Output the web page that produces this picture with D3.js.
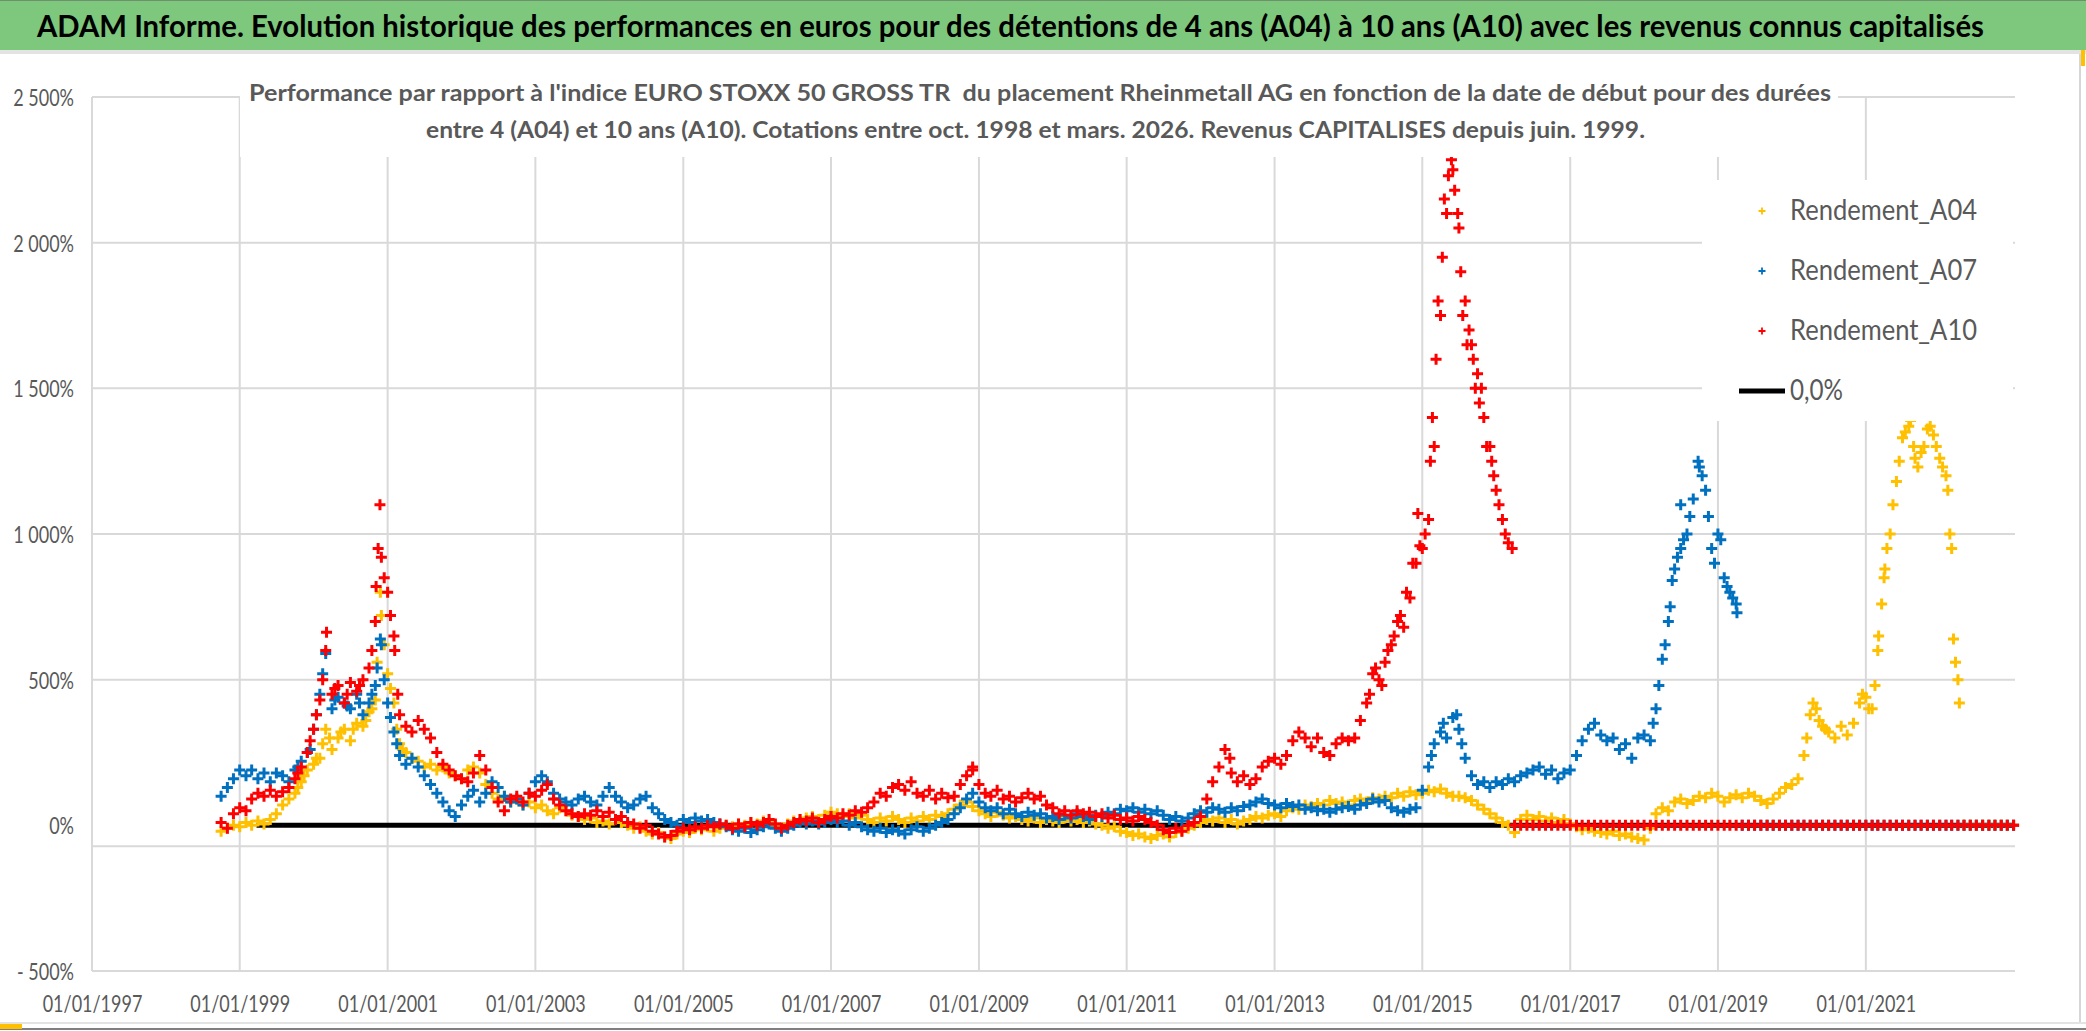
<!DOCTYPE html>
<html>
<head>
<meta charset="utf-8">
<script src="https://cdn.jsdelivr.net/npm/d3@7"></script>
<style>
  body { margin: 0; background: #fff; }
  svg { display: block; }
  text { font-family: Lato, "Open Sans", sans-serif; white-space: pre; }
</style>
</head>
<body>
<div id="chart"></div>
<script>
// monthly values (%), first value = oct. 1998, one row per 12 months (oct -> sep)
const firstMonth = new Date(1998, 9, 1);

const a04Values = [
  -20, -10, 0, -5, 10, 0, 15, 5, 20, 40, 70, 90,
  110, 150, 190, 210, 230, 330, 260, 300, 330, 290, 350, 340,
  390, 430, 720, 520, 420, 280, 250, 230, 220, 200, 210, 190,
  200, 180, 170, 160, 190, 200, 180, 140, 110, 90, 100, 80,
  90, 70, 80, 60, 70, 50, 40, 60, 50, 35, 30, 20,
  25, 10, 15, 5, 20, 10, 0, -10, -5, -20, -30, -25,
  -40, -45, -30, -20, -25, -10, -15, -5, -20, -10, 0, -5,
  5, 0, 10, 5, 15, 10, 0, -10, 5, 15, 20, 25,
  30, 20, 35, 45, 40, 30, 40, 25, 35, 20, 10, 25,
  15, 30, 20, 10, 25, 15, 30, 20, 35, 30, 40, 55,
  70, 80, 65, 50, 40, 30, 45, 35, 25, 30, 20, 15,
  25, 10, 20, 15, 10, 25, 15, 20, 10, 15, 5, 0,
  -10, -5, -20, -25, -35, -30, -40, -45, -35, -30, -40, -25,
  -20, -10, 0, 10, 20, 15, 25, 10, 20, 5, 15, 20,
  30, 25, 35, 40, 30, 50, 60, 55, 70, 65, 75, 70,
  85, 75, 80, 70, 85, 90, 80, 95, 90, 100, 95, 110,
  100, 115, 105, 110, 120, 115, 125, 110, 100, 100, 95, 85,
  70, 55, 40, 25, 10, 0, -25, 20, 35, 20, 30, 15,
  25, 10, 20, 5, -5, -15, -10, -20, -25, -30, -20, -35,
  -30, -40, -45, -50, -10, 40, 60, 50, 80, 90, 75, 85,
  100, 95, 110, 100, 80, 95, 105, 95, 110, 100, 85, 75,
  90, 110, 130, 140, 160, 240, 380, 400, 340, 320, 300, 340,
  310, 350, 420, 440, 400, 600, 850, 1000, 1180, 1330, 1370, 1260,
  1280, 1360, 1340, 1260, 1200, 950, 500, 0, 0, 0, 0, 0,
  0, 0, 0, 0
];

const a07Values = [
  100, 130, 160, 190, 170, 190, 160, 180, 150, 180, 170, 150,
  190, 220, 250, 330, 450, 590, 400, 440, 420, 400, 450, 380,
  420, 480, 620, 420, 320, 240, 210, 230, 200, 170, 140, 110,
  80, 50, 30, 70, 100, 120, 80, 110, 150, 130, 100, 80,
  90, 70, 110, 150, 170, 150, 110, 90, 80, 70, 90, 100,
  80, 70, 100, 130, 100, 80, 60, 70, 90, 100, 60, 40,
  20, 10, 0, 20, 10, 25, 15, 20, 10, 5, -5, -15,
  -20, -10, -25, -15, -5, 5, -10, -20, -10, 0, 10, 5,
  15, 5, 10, 20, 10, 15, 0, 10, -5, -15, -20, -10,
  -25, -15, -20, -30, -15, -5, -20, -10, 0, 10, 20, 40,
  60, 90, 110, 80, 60, 50, 60, 40, 55, 40, 30, 45,
  35, 40, 25, 30, 20, 35, 25, 40, 30, 20, 35, 30,
  45, 40, 55, 50, 60, 45, 55, 40, 50, 35, 20, 30,
  15, 25, 40, 50, 45, 60, 55, 45, 60, 50, 65, 70,
  80, 90, 75, 70, 60, 75, 65, 70, 55, 60, 50, 55,
  45, 55, 60, 65, 55, 70, 75, 90, 80, 85, 60, 50,
  45, 55, 60, 120, 200, 280, 320, 300, 370, 330, 230, 170,
  140, 150, 130, 150, 140, 160, 150, 170, 180, 190, 200, 175,
  190, 160, 180, 190, 240, 290, 330, 350, 310, 290, 300, 260,
  280, 230, 300, 310, 290, 400, 570, 700, 880, 950, 1000, 1120,
  1230, 1150, 950, 1000, 850, 800, 760, 0, 0, 0, 0, 0,
  0, 0, 0, 0, 0, 0, 0, 0, 0, 0, 0, 0,
  0, 0, 0, 0, 0, 0, 0, 0, 0, 0, 0, 0,
  0, 0, 0, 0, 0, 0, 0, 0, 0, 0, 0, 0,
  0, 0, 0, 0
];

const a10Values = [
  10, -10, 40, 60, 50, 90, 110, 100, 120, 100, 115, 130,
  160, 200, 250, 330, 430, 600, 450, 480, 420, 490, 460, 500,
  540, 700, 920, 800, 650, 380, 340, 320, 360, 330, 300, 250,
  210, 190, 170, 160, 150, 180, 240, 190, 130, 80, 50, 90,
  100, 80, 110, 100, 120, 140, 90, 70, 50, 40, 30, 40,
  35, 50, 30, 45, 20, 30, 10, 5, -10, 0, -20, -30,
  -40, -35, -20, -10, -15, -5, -10, 0, -5, 5, 0, -10,
  5, -5, 10, 0, 10, 20, 5, -10, 0, 10, 20, 15,
  25, 10, 20, 30, 25, 40, 35, 50, 45, 60, 80, 110,
  100, 130, 140, 120, 150, 110, 100, 120, 90, 110, 95, 100,
  140, 170, 190, 140, 110, 100, 120, 90, 100, 80, 95, 110,
  90, 100, 70, 60, 40, 50, 35, 50, 40, 45, 30, 40,
  25, 35, 20, 25, 15, 30, 20, 10, 0, -15, -25, -10,
  -20, 0, 10, 30, 90, 150, 200, 260, 180, 150, 170, 140,
  160, 200, 220, 230, 210, 240, 290, 320, 300, 270, 300, 250,
  240, 280, 300, 290, 300, 360, 420, 520, 500, 560, 620, 700,
  680, 780, 900, 950, 1050, 1300, 1750, 2100, 2250, 2050, 1800, 1650,
  1550, 1400, 1300, 1150, 1050, 970, 0, 0, 0, 0, 0, 0,
  0, 0, 0, 0, 0, 0, 0, 0, 0, 0, 0, 0,
  0, 0, 0, 0, 0, 0, 0, 0, 0, 0, 0, 0,
  0, 0, 0, 0, 0, 0, 0, 0, 0, 0, 0, 0,
  0, 0, 0, 0, 0, 0, 0, 0, 0, 0, 0, 0,
  0, 0, 0, 0, 0, 0, 0, 0, 0, 0, 0, 0,
  0, 0, 0, 0, 0, 0, 0, 0, 0, 0, 0, 0,
  0, 0, 0, 0
];

// extra points read where the bands are steep or scattered
const a04Extra = [
  ["1999-10-15", 130], ["1999-11-15", 170], ["2000-01-15", 230], ["2000-02-15", 280], ["2000-03-20", 300],
  ["2000-05-15", 320], ["2000-07-15", 330], ["2000-09-15", 360], ["2000-10-15", 400], ["2000-11-10", 560],
  ["2000-11-26", 800], ["2000-12-15", 620], ["2001-01-15", 470], ["2001-02-15", 330], ["2001-03-15", 260],
  ["2020-03-15", 300], ["2020-04-15", 420], ["2020-05-15", 360], ["2020-06-15", 330], ["2020-12-15", 450],
  ["2021-01-15", 400], ["2021-02-15", 480], ["2021-03-05", 650], ["2021-03-20", 760], ["2021-04-05", 880],
  ["2021-04-15", 950], ["2021-05-15", 1100], ["2021-06-15", 1250], ["2021-07-15", 1350], ["2021-08-10", 1390],
  ["2021-08-25", 1300], ["2021-09-15", 1230], ["2021-10-15", 1300], ["2021-11-15", 1370], ["2021-12-15", 1300],
  ["2022-01-15", 1230], ["2022-02-10", 1150], ["2022-02-20", 1000], ["2022-03-10", 640], ["2022-03-20", 560],
  ["2022-04-08", 420]
];
const a07Extra = [
  ["1999-10-15", 200], ["1999-12-15", 260], ["2000-01-15", 380], ["2000-02-15", 520], ["2000-04-15", 430],
  ["2000-06-15", 410], ["2000-08-15", 420], ["2000-10-15", 450], ["2000-11-10", 540], ["2000-11-26", 640],
  ["2000-12-15", 500], ["2001-01-15", 370], ["2001-02-15", 280], ["2015-02-15", 240], ["2015-04-15", 350],
  ["2015-06-20", 380], ["2015-07-15", 280], ["2018-02-15", 350], ["2018-03-15", 480], ["2018-04-15", 620],
  ["2018-05-10", 750], ["2018-05-20", 840], ["2018-06-15", 920], ["2018-07-01", 1100], ["2018-07-15", 980],
  ["2018-08-15", 1060], ["2018-09-25", 1250], ["2018-10-15", 1200], ["2018-11-15", 1060], ["2018-12-15", 900],
  ["2019-01-15", 980], ["2019-02-15", 820], ["2019-03-15", 780], ["2019-04-05", 730]
];
const a10Extra = [
  ["1999-10-15", 180], ["1999-12-15", 290], ["2000-01-15", 380], ["2000-02-15", 500], ["2000-03-05", 663],
  ["2000-04-15", 470], ["2000-06-15", 450], ["2000-08-15", 480], ["2000-10-15", 600], ["2000-11-05", 820],
  ["2000-11-15", 950], ["2000-11-24", 1100], ["2000-12-15", 850], ["2001-01-15", 720], ["2001-02-05", 600],
  ["2001-02-20", 450], ["2008-12-01", 200], ["2012-05-25", 230], ["2014-04-15", 450], ["2014-05-15", 540],
  ["2014-06-15", 480], ["2014-07-15", 600], ["2014-08-15", 650], ["2014-09-15", 720], ["2014-10-15", 800],
  ["2014-11-15", 900], ["2014-12-10", 1070], ["2014-12-20", 960], ["2015-01-15", 1000], ["2015-02-10", 1250],
  ["2015-02-20", 1400], ["2015-03-10", 1600], ["2015-03-20", 1800], ["2015-04-10", 1950], ["2015-04-20", 2150],
  ["2015-05-10", 2230], ["2015-05-25", 2285], ["2015-06-10", 2180], ["2015-06-25", 2100], ["2015-07-10", 1900],
  ["2015-07-20", 1750], ["2015-08-10", 1650], ["2015-08-20", 1700], ["2015-09-10", 1600], ["2015-09-20", 1500],
  ["2015-10-10", 1450], ["2015-10-20", 1500], ["2015-11-15", 1300], ["2015-12-10", 1250], ["2015-12-20", 1200],
  ["2016-01-15", 1100], ["2016-02-15", 1000], ["2016-03-20", 950]
];

const zeroLineDates = ["1999-03-25", "2023-01-01"];
const zeroLineValues = [0, 0];

const seriesNames = ["Rendement_A04", "Rendement_A07", "Rendement_A10"];
const seriesColors = ["#FFC000", "#0070C0", "#FF0000"];

const yTicks = [-500, 0, 500, 1000, 1500, 2000, 2500];
const yTickLabels = ["- 500%", "0%", "500%", "1 000%", "1 500%", "2 000%", "2 500%"];
const xTickYears = [1997, 1999, 2001, 2003, 2005, 2007, 2009, 2011, 2013, 2015, 2017, 2019, 2021];
const axisCross = -72;

const titleText = "ADAM Informe. Evolution historique des performances en euros pour des détentions de 4 ans (A04) à 10 ans (A10) avec les revenus connus capitalisés";
const subLine1 = "Performance par rapport à l'indice EURO STOXX 50 GROSS TR  du placement Rheinmetall AG en fonction de la date de début pour des durées";
const subLine2 = "entre 4 (A04) et 10 ans (A10). Cotations entre oct. 1998 et mars. 2026. Revenus CAPITALISES depuis juin. 1999.";

const width = 2086;
const height = 1031;
const plot = { left: 92, right: 2015, top: 97, bottom: 971 };
const textGrey = "#595959";
const gridGrey = "#d9d9d9";

const svg = d3.select("#chart").append("svg")
  .attr("width", width)
  .attr("height", height);

const x = d3.scaleTime()
  .domain([new Date(1997, 0, 1), new Date(2023, 0, 8)])
  .range([plot.left, plot.right]);
const y = d3.scaleLinear()
  .domain([-500, 2500])
  .range([plot.bottom, plot.top]);

function toPoints(values, extra) {
  const pts = values.map((v, i) => ({ date: d3.timeMonth.offset(firstMonth, i), value: v }));
  extra.forEach(e => pts.push({ date: new Date(e[0]), value: e[1] }));
  return pts;
}
const series = [
  toPoints(a04Values, a04Extra),
  toPoints(a07Values, a07Extra),
  toPoints(a10Values, a10Extra)
];

// frame
svg.append("rect").attr("width", width).attr("height", height).attr("fill", "#fff");
svg.append("rect").attr("x", 0).attr("y", 0).attr("width", width).attr("height", 50).attr("fill", "#7dc87d");
svg.append("line").attr("x1", 0).attr("x2", width).attr("y1", 0.5).attr("y2", 0.5).attr("stroke", "#6f8f6f");
svg.append("rect").attr("x", 0).attr("y", 50).attr("width", width).attr("height", 4).attr("fill", "#e3e3e3");
svg.append("line").attr("x1", 2080).attr("x2", 2080).attr("y1", 54).attr("y2", 1024).attr("stroke", "#c8c8c8").attr("stroke-width", 1.5);
svg.append("line").attr("x1", 0).attr("x2", width).attr("y1", 1023).attr("y2", 1023).attr("stroke", "#e3e3e3").attr("stroke-width", 2);
svg.append("line").attr("x1", 0).attr("x2", width).attr("y1", 1029).attr("y2", 1029).attr("stroke", "#7f7f7f").attr("stroke-width", 2);

svg.append("text")
  .attr("x", 37).attr("y", 37)
  .attr("font-size", 30).attr("font-weight", 700).attr("fill", "#000")
  .attr("textLength", 1947).attr("lengthAdjust", "spacingAndGlyphs")
  .text(titleText);

// grid
const grid = svg.append("g").attr("id", "grid");
grid.selectAll("line.h").data(yTicks.filter(d => d !== 0).concat([axisCross]))
  .enter().append("line")
  .attr("x1", plot.left).attr("x2", plot.right)
  .attr("y1", d => y(d)).attr("y2", d => y(d))
  .attr("stroke", gridGrey).attr("stroke-width", 2);
grid.selectAll("line.v").data(xTickYears)
  .enter().append("line")
  .attr("x1", d => x(new Date(d, 0, 1))).attr("x2", d => x(new Date(d, 0, 1)))
  .attr("y1", plot.top).attr("y2", plot.bottom)
  .attr("stroke", gridGrey).attr("stroke-width", 2);

// axes
const yAxis = d3.axisLeft(y).tickValues(yTicks)
  .tickFormat((d, i) => yTickLabels[i]).tickSize(0).tickPadding(0);
const yAxisGroup = svg.append("g").attr("transform", "translate(74,0)").call(yAxis);
yAxisGroup.select(".domain").remove();
yAxisGroup.selectAll("text")
  .attr("font-family", "Lato").attr("font-size", 18).attr("fill", textGrey)
  .attr("x", 0).attr("dy", "0.36em").attr("transform", "scale(1,1.3)");

const xAxis = d3.axisBottom(x).tickValues(xTickYears.map(d => new Date(d, 0, 1)))
  .tickFormat(d3.timeFormat("%d/%m/%Y")).tickSize(0).tickPadding(0);
const xAxisGroup = svg.append("g").attr("transform", "translate(0,1004)").call(xAxis);
xAxisGroup.select(".domain").remove();
xAxisGroup.selectAll("text")
  .attr("font-family", "Lato").attr("font-size", 18).attr("fill", textGrey)
  .attr("y", 0).attr("dy", "0.36em").attr("transform", "scale(1,1.3)");

// zero line (drawn under the markers)
const zeroData = zeroLineDates.map((d, i) => ({ date: new Date(d), value: zeroLineValues[i] }));
svg.append("path").datum(zeroData)
  .attr("fill", "none").attr("stroke", "#000").attr("stroke-width", 5)
  .attr("d", d3.line().x(d => x(d.date)).y(d => y(d.value)));

// markers
const plus = "M-5.5,0H5.5M0,-5.5V5.5";
series.forEach((pts, k) => {
  svg.append("g").attr("id", seriesNames[k])
    .selectAll("path").data(pts).enter().append("path")
    .attr("d", plus)
    .attr("transform", d => `translate(${x(d.date)},${y(d.value)})`)
    .attr("stroke", seriesColors[k]).attr("stroke-width", 3).attr("fill", "none");
});

// subtitle box
svg.append("rect").attr("x", 240).attr("y", 60).attr("width", 1598).attr("height", 97).attr("fill", "#fff");
svg.append("text").attr("x", 249).attr("y", 101)
  .attr("font-size", 22).attr("font-weight", 700).attr("fill", textGrey)
  .attr("textLength", 1582).attr("lengthAdjust", "spacingAndGlyphs").text(subLine1);
svg.append("text").attr("x", 426).attr("y", 138)
  .attr("font-size", 22).attr("font-weight", 700).attr("fill", textGrey)
  .attr("textLength", 1219).attr("lengthAdjust", "spacingAndGlyphs").text(subLine2);

// legend
const legend = svg.append("g").attr("id", "legend");
legend.append("rect").attr("x", 1702).attr("y", 180).attr("width", 311).attr("height", 241).attr("fill", "#fff");
seriesNames.forEach((name, k) => {
  const ly = 211 + k * 60;
  legend.append("path").attr("d", "M-3.5,0H3.5M0,-3.5V3.5")
    .attr("transform", `translate(1762,${ly})`)
    .attr("stroke", seriesColors[k]).attr("stroke-width", 1.8);
  legend.append("text").attr("x", 1790).attr("y", ly + 9)
    .attr("font-size", 28).attr("fill", textGrey)
    .attr("textLength", 187).attr("lengthAdjust", "spacingAndGlyphs").text(name);
});
legend.append("line").attr("x1", 1739).attr("x2", 1785).attr("y1", 391).attr("y2", 391)
  .attr("stroke", "#000").attr("stroke-width", 5);
legend.append("text").attr("x", 1790).attr("y", 400)
  .attr("font-size", 28).attr("fill", textGrey)
  .attr("textLength", 53).attr("lengthAdjust", "spacingAndGlyphs").text("0,0%");

// small orange handles seen on the frame
svg.append("rect").attr("x", 0).attr("y", 1024).attr("width", 22).attr("height", 5).attr("fill", "#FFC000");
svg.append("rect").attr("x", 2081).attr("y", 50).attr("width", 4).attr("height", 16).attr("fill", "#FFC000");
</script>
</body>
</html>
